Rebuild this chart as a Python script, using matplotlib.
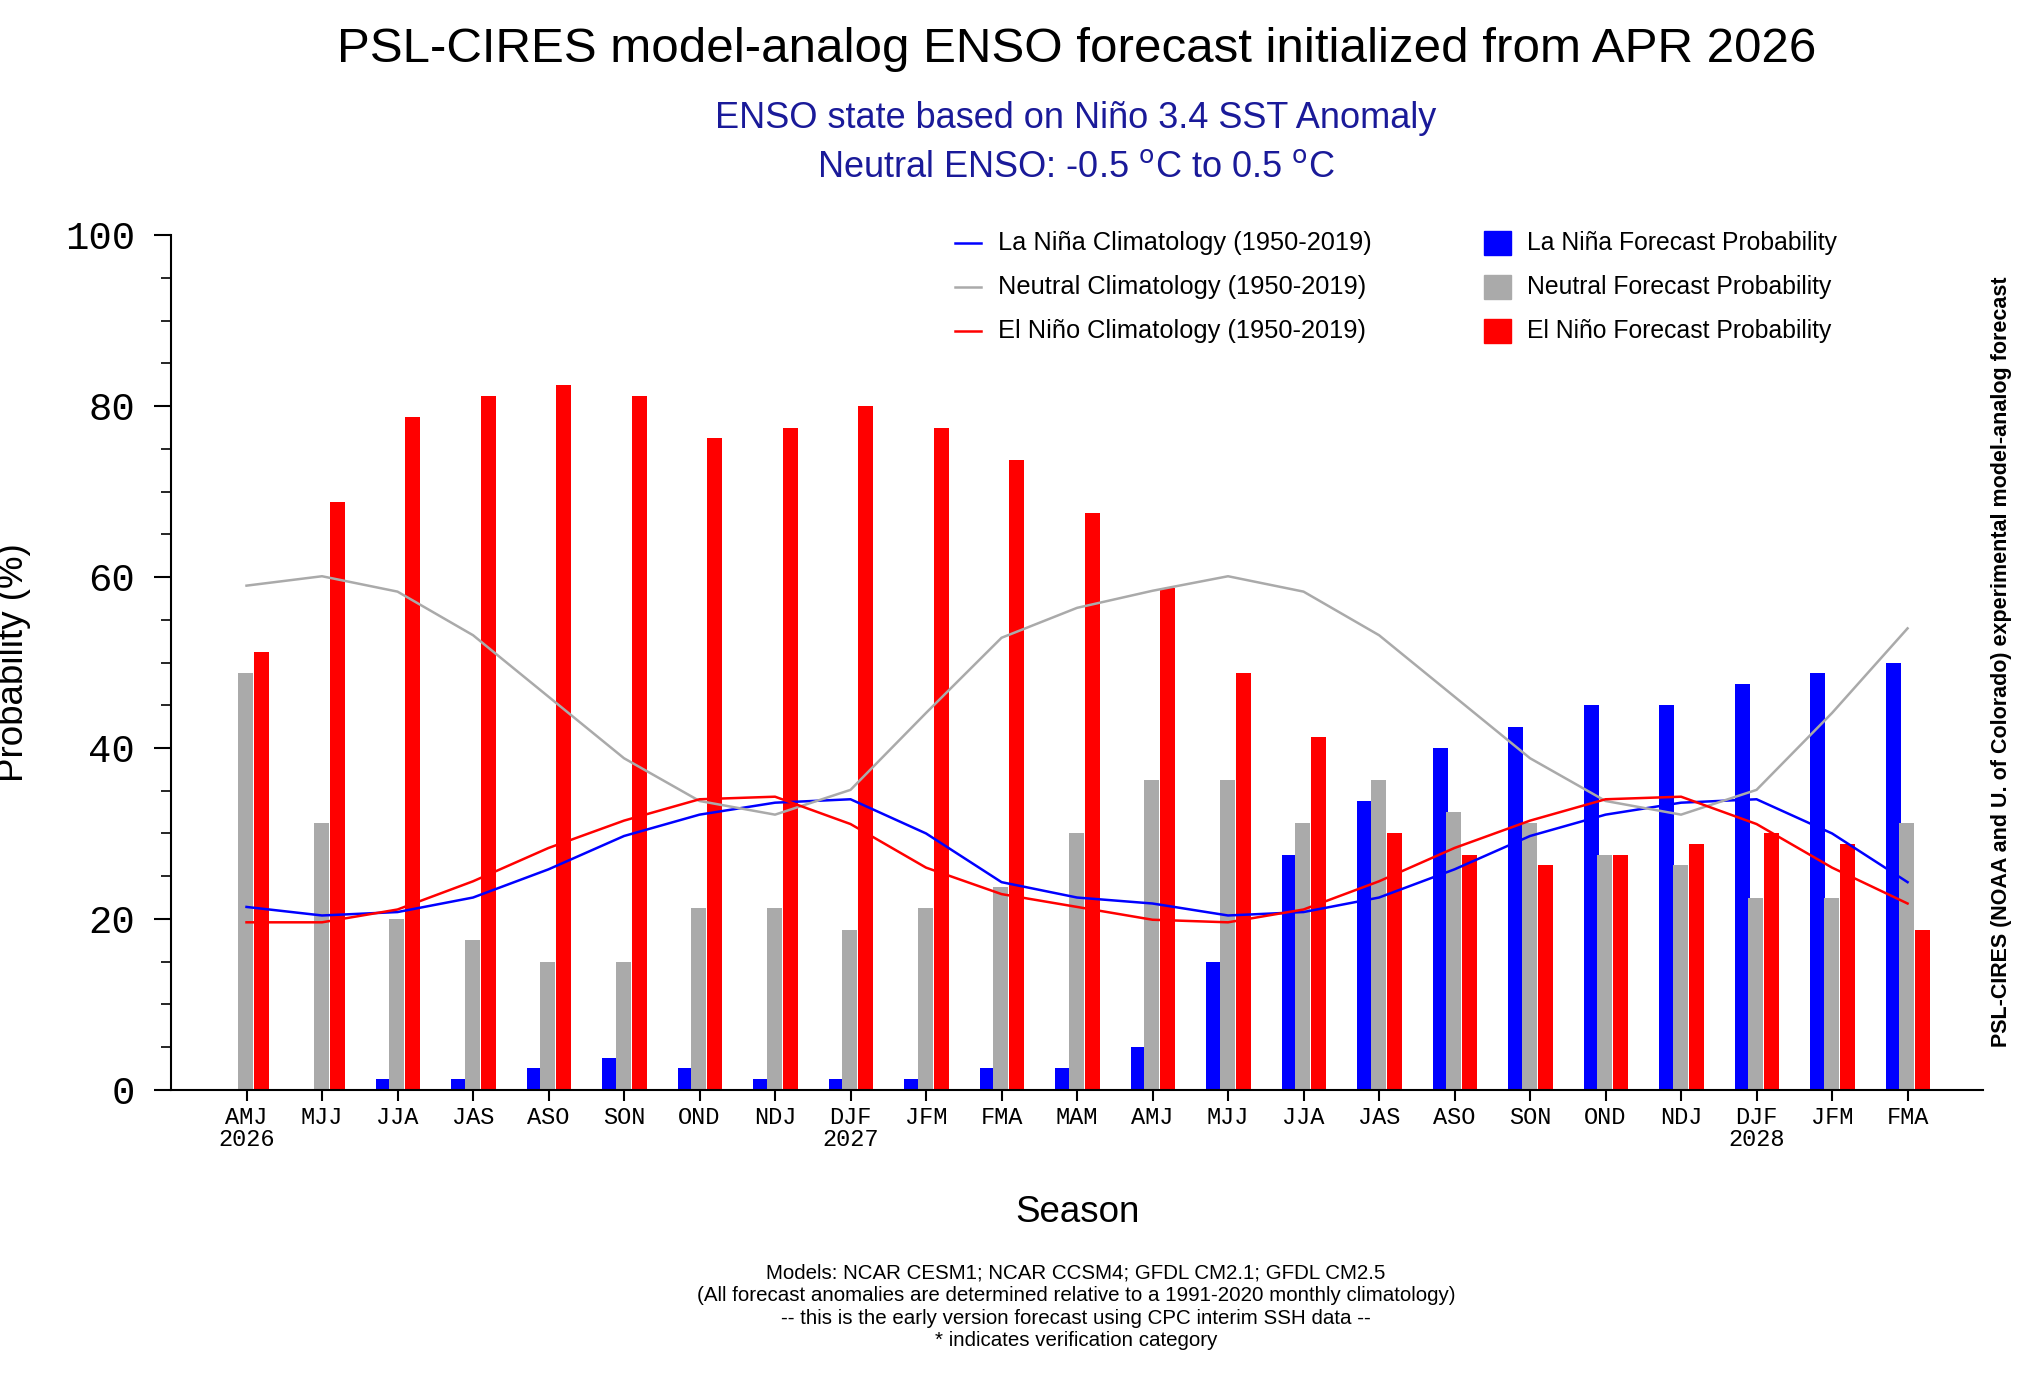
import matplotlib
matplotlib.use("Agg")
import matplotlib.pyplot as plt
import numpy as np
from matplotlib.patches import Rectangle
from matplotlib.lines import Line2D

seasons = ["AMJ\n2026","MJJ","JJA","JAS","ASO","SON","OND","NDJ","DJF\n2027","JFM","FMA","MAM",
           "AMJ","MJJ","JJA","JAS","ASO","SON","OND","NDJ","DJF\n2028","JFM","FMA"]
lanina_fc = [0,0,1.25,1.25,2.5,3.75,2.5,1.25,1.25,1.25,2.5,2.5,5,15,27.5,33.75,40,42.5,45,45,47.5,48.75,50]
neutral_fc = [48.75,31.25,20,17.5,15,15,21.25,21.25,18.75,21.25,23.75,30,36.25,36.25,31.25,36.25,32.5,31.25,27.5,26.25,22.5,22.5,31.25]
elnino_fc = [51.25,68.75,78.75,81.25,82.5,81.25,76.25,77.5,80,77.5,73.75,67.5,58.75,48.75,41.25,30,27.5,26.25,27.5,28.75,30,28.75,18.75]
lanina_clim = [21.4,20.4,20.8,22.5,25.8,29.7,32.2,33.6,34.0,30.0,24.3,22.5,
               21.8,20.4,20.8,22.5,25.8,29.7,32.2,33.6,34.0,30.0,24.3]
neutral_clim = [59.0,60.1,58.3,53.2,46.0,38.8,33.8,32.2,35.1,44.1,52.9,56.4,
                58.4,60.1,58.3,53.2,46.0,38.8,33.8,32.2,35.1,44.1,54.0]
elnino_clim = [19.6,19.6,21.1,24.4,28.3,31.5,34.0,34.3,31.1,26.0,22.9,21.4,
               19.9,19.6,21.1,24.4,28.3,31.5,34.0,34.3,31.1,26.0,21.8]

plt.rcParams['font.family'] = ['Liberation Sans', 'DejaVu Sans']
fig = plt.figure(figsize=(20.19, 13.76), dpi=100)
ax = fig.add_axes([0.0847, 0.208, 0.8975, 0.621])
x = np.arange(len(seasons))
w = 0.2
blue, gray, red = "#0000ff", "#aaaaaa", "#ff0000"
ax.bar(x - 0.19, lanina_fc, w, color=blue)
ax.bar(x - 0.01, neutral_fc, w, color=gray)
ax.bar(x + 0.2, elnino_fc, w, color=red)
ax.plot(x, lanina_clim, color=blue, lw=1.8)
ax.plot(x, neutral_clim, color=gray, lw=1.8)
ax.plot(x, elnino_clim, color=red, lw=1.8)

ax.set_xlim(-1, 23)
ax.set_ylim(0, 100)
for s in ["top", "right"]:
    ax.spines[s].set_visible(False)
ax.spines["left"].set_linewidth(1.5)
ax.spines["bottom"].set_linewidth(1.5)
ax.set_yticks(np.arange(0, 101, 20))
ax.set_yticks(np.arange(0, 101, 5), minor=True)
ax.set_xticks(x)
ax.set_xticklabels(seasons, family="Liberation Mono", fontsize=17, linespacing=0.9)
for lab in ax.get_yticklabels():
    lab.set_family("Liberation Mono")
ax.tick_params(axis="y", which="major", labelsize=28, length=12, width=1.5, direction="out", pad=14)
ax.tick_params(axis="y", which="minor", length=7, width=1.2, direction="out")
ax.tick_params(axis="x", length=8, width=1.5, direction="out", pad=4)
ax.set_ylabel("Probability (%)", fontsize=26.5)
ax.set_xlabel("Season", fontsize=26.5)
ax.yaxis.set_label_coords(-0.077, 0.5)
ax.xaxis.set_label_coords(0.5, -0.123)

fig.text(0.533, 0.964, "PSL-CIRES model-analog ENSO forecast initialized from APR 2026",
         ha="center", va="center", fontsize=35.5)
fig.text(0.533, 0.914, "ENSO state based on Niño 3.4 SST Anomaly", ha="center", va="center",
         fontsize=26, color="#1a1a99")
fig.text(0.533, 0.878, "Neutral ENSO: -0.5 $^{\\mathrm{o}}$C to 0.5 $^{\\mathrm{o}}$C", ha="center", va="center",
         fontsize=26, color="#1a1a99")

lines_leg = [("La Niña Climatology (1950-2019)", blue), ("Neutral Climatology (1950-2019)", gray),
             ("El Niño Climatology (1950-2019)", red)]
bars_leg = [("La Niña Forecast Probability", blue), ("Neutral Forecast Probability", gray),
            ("El Niño Forecast Probability", red)]
ys = [1 - 243/1376, 1 - 287/1376, 1 - 331/1376]
for (t, c), yy in zip(lines_leg, ys):
    fig.add_artist(Line2D([955/2019, 981/2019], [yy, yy], color=c, lw=1.8))
    fig.text(998/2019, yy, t, va="center", fontsize=18.3)
for (t, c), yy in zip(bars_leg, ys):
    fig.add_artist(Rectangle((1484/2019, yy - 12/1376), 27/2019, 24/1376, color=c))
    fig.text(1527/2019, yy, t, va="center", fontsize=17.8)

fig.text(0.9915, 0.519, "PSL-CIRES (NOAA and U. of Colorado) experimental model-analog forecast",
         rotation=90, ha="center", va="center", fontsize=15.5, fontweight="bold")

foot = ["Models: NCAR CESM1; NCAR CCSM4; GFDL CM2.1; GFDL CM2.5",
        "(All forecast anomalies are determined relative to a 1991-2020 monthly climatology)",
        "-- this is the early version forecast using CPC interim SSH data --",
        "* indicates verification category"]
for i, t in enumerate(foot):
    fig.text(0.533, 1 - (1273 + 22.5*i)/1376, t, ha="center", va="center", fontsize=14.8)

fig.savefig("out.png", dpi=100)
